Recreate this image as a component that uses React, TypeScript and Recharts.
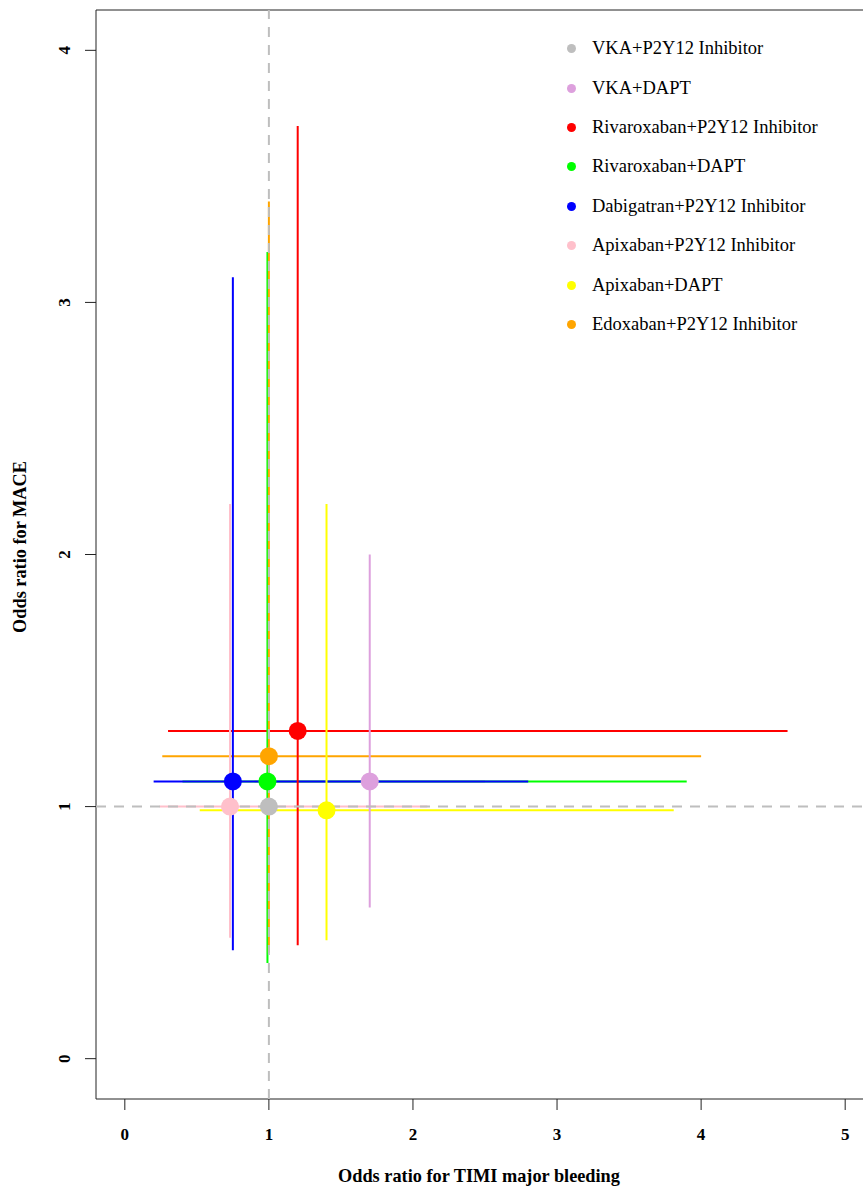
import { ScatterChart, Scatter, XAxis, YAxis, ReferenceLine, Legend } from 'recharts'

const groups = [
  'VKA+P2Y12 Inhibitor',
  'VKA+DAPT',
  'Rivaroxaban+P2Y12 Inhibitor',
  'Rivaroxaban+DAPT',
  'Dabigatran+P2Y12 Inhibitor',
  'Apixaban+P2Y12 Inhibitor',
  'Apixaban+DAPT',
  'Edoxaban+P2Y12 Inhibitor',
]
const colors = ['#BEBEBE', '#DDA0DD', '#FF0000', '#00FF00', '#0000FF', '#FFC0CB', '#FFFF00', '#FFA500']

// odds ratio for TIMI major bleeding (x) with CI
const bleedOR = [1, 1.7, 1.2, 0.99, 0.75, 0.73, 1.4, 1.0]
const bleedLow = [1, 0.9, 0.3, 0.4, 0.2, 0.24, 0.52, 0.26]
const bleedHigh = [1, 2.5, 4.6, 3.9, 2.8, 2.1, 3.81, 4.0]

// odds ratio for MACE (y) with CI
const maceOR = [1, 1.1, 1.3, 1.1, 1.1, 1.0, 0.985, 1.2]
const maceLow = [1, 0.6, 0.45, 0.38, 0.43, 0.48, 0.47, 0.42]
const maceHigh = [1, 2.0, 3.7, 3.2, 3.1, 2.2, 2.2, 3.4]

const xTicks = [0, 1, 2, 3, 4, 5]
const yTicks = [0, 1, 2, 3, 4]
const refValue = 1

const X_DOMAIN: [number, number] = [-0.2, 5.2]
const Y_DOMAIN: [number, number] = [-0.16, 4.16]
const FONT = '"Liberation Serif", "Times New Roman", serif'
const AXIS = '#222'

const noShape = () => <g />

function XTick({ x, y, payload }: any) {
  return (
    <text x={x} y={y + 28} textAnchor="middle" fontFamily={FONT} fontWeight="bold" fontSize={17} fill="#000">
      {payload.value}
    </text>
  )
}

function YTick({ y, payload }: any) {
  return (
    <text
      x={70}
      y={y}
      transform={`rotate(-90, 70, ${y})`}
      textAnchor="middle"
      fontFamily={FONT}
      fontWeight="bold"
      fontSize={17}
      fill="#000"
    >
      {payload.value}
    </text>
  )
}

function LegendList() {
  return (
    <div style={{ fontFamily: FONT, fontSize: 18.5, color: '#000' }}>
      {groups.map((g, i) => (
        <div key={g} style={{ height: 39.4, display: 'flex', alignItems: 'center', position: 'relative' }}>
          <span
            style={{
              position: 'absolute',
              left: 6.5,
              width: 9,
              height: 9,
              borderRadius: '50%',
              background: colors[i],
            }}
          />
          <span style={{ marginLeft: 32, whiteSpace: 'nowrap' }}>{g}</span>
        </div>
      ))}
    </div>
  )
}

export default function App() {
  const hLines = groups.map((_, i) => [
    { x: bleedLow[i], y: maceOR[i] },
    { x: bleedHigh[i], y: maceOR[i] },
  ])
  const vLines = groups.map((_, i) => [
    { x: bleedOR[i], y: maceLow[i] },
    { x: bleedOR[i], y: maceHigh[i] },
  ])
  const points = groups.map((_, i) => [{ x: bleedOR[i], y: maceOR[i] }])

  return (
    <div style={{ position: 'absolute', left: 0, top: 0, width: 863, height: 1186, overflow: 'hidden', background: '#fff' }}>
      <ScatterChart width={863} height={1186} margin={{ top: 10, right: -11, bottom: 0, left: 0 }}>
        <XAxis
          type="number"
          dataKey="x"
          domain={X_DOMAIN}
          ticks={xTicks}
          allowDataOverflow
          height={87}
          tickSize={11}
          axisLine={{ stroke: AXIS }}
          tickLine={{ stroke: AXIS }}
          tick={<XTick />}
          label={(props: any) => {
            const vb = props.viewBox
            return (
              <text x={479} y={vb.y + 83} textAnchor="middle" fontFamily={FONT} fontWeight="bold" fontSize={18.3} fill="#000">
                Odds ratio for TIMI major bleeding
              </text>
            )
          }}
        />
        <YAxis
          type="number"
          dataKey="y"
          domain={Y_DOMAIN}
          ticks={yTicks}
          allowDataOverflow
          width={96}
          tickSize={11}
          axisLine={{ stroke: AXIS }}
          tickLine={{ stroke: AXIS }}
          tick={<YTick />}
          label={() => (
            <text
              x={26}
              y={547}
              transform="rotate(-90, 26, 547)"
              textAnchor="middle"
              fontFamily={FONT}
              fontWeight="bold"
              fontSize={18.3}
              fill="#000"
            >
              Odds ratio for MACE
            </text>
          )}
        />
        <ReferenceLine y={Y_DOMAIN[1]} stroke={AXIS} strokeWidth={1} ifOverflow="visible" />
        {groups.map((g, i) => (
          <Scatter
            key={`h-${g}`}
            data={hLines[i]}
            line={{ stroke: colors[i], strokeWidth: 2 }}
            shape={noShape}
            legendType="none"
            isAnimationActive={false}
          />
        ))}
        {groups.map((g, i) => (
          <Scatter
            key={`v-${g}`}
            data={vLines[i]}
            line={{ stroke: colors[i], strokeWidth: 2 }}
            shape={noShape}
            legendType="none"
            isAnimationActive={false}
          />
        ))}
        <Scatter
          data={[
            { x: refValue, y: Y_DOMAIN[0] },
            { x: refValue, y: Y_DOMAIN[1] },
          ]}
          line={{ stroke: '#BEBEBE', strokeWidth: 2, strokeDasharray: '10 8' }}
          shape={noShape}
          legendType="none"
          isAnimationActive={false}
        />
        <Scatter
          data={[
            { x: X_DOMAIN[0], y: refValue },
            { x: X_DOMAIN[1], y: refValue },
          ]}
          line={{ stroke: '#BEBEBE', strokeWidth: 2, strokeDasharray: '10 8' }}
          shape={noShape}
          legendType="none"
          isAnimationActive={false}
        />
        {groups.map((g, i) => (
          <Scatter
            key={`p-${g}`}
            name={g}
            data={points[i]}
            fill={colors[i]}
            shape={(p: any) => <circle cx={p.cx} cy={p.cy} r={9} fill={colors[i]} />}
            isAnimationActive={false}
          />
        ))}
        <Legend
          layout="vertical"
          align="center"
          verticalAlign="middle"
          content={() => <LegendList />}
          wrapperStyle={{ position: 'absolute', top: 29, left: 560, width: 290, bottom: 'auto', right: 'auto' }}
        />
      </ScatterChart>
    </div>
  )
}
